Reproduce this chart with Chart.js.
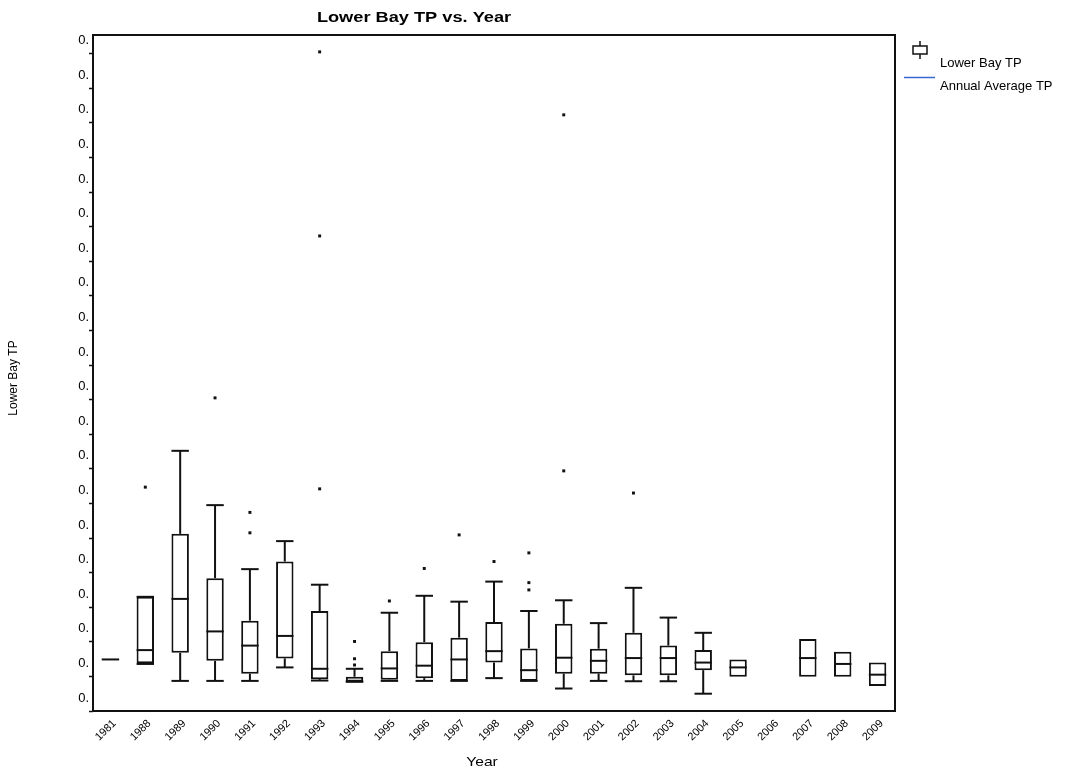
<!DOCTYPE html>
<html>
<head>
<meta charset="utf-8">
<title>Lower Bay TP vs. Year</title>
<script src="https://cdn.jsdelivr.net/npm/chart.js@4.4.1/dist/chart.umd.min.js"></script>
<style>
  html, body { margin: 0; padding: 0; background: #fff; }
  #wrap { width: 1066px; height: 775px; }
</style>
</head>
<body>
<div id="wrap"><canvas id="chart" width="1066" height="775"></canvas></div>
<script>
// Sampling years (categories on the x axis)
const years = ['1981','1988','1989','1990','1991','1992','1993','1994','1995','1996','1997','1998',
               '1999','2000','2001','2002','2003','2004','2005','2006','2007','2008','2009'];

// Box plot statistics per year (TP, mg/L); null where a part is absent
const whiskerLow  = [null, 0.0136, 0.0087, 0.0087, 0.0087, 0.0126, 0.0088, 0.0085, 0.0087, 0.0087, 0.0087, 0.0095,
                     0.0087, 0.0065, 0.0087, 0.0086, 0.0086, 0.0050, null, null, null, null, null];
const q1          = [0.0149, 0.0138, 0.0168, 0.0145, 0.0108, 0.0152, 0.0092, 0.0085, 0.0090, 0.0095, 0.0087, 0.0140,
                     0.0087, 0.0108, 0.0108, 0.0103, 0.0103, 0.0118, 0.0099, null, 0.0099, 0.0099, 0.0072];
const median      = [0.0149, 0.0176, 0.0324, 0.0230, 0.0189, 0.0217, 0.0122, 0.0085, 0.0123, 0.0131, 0.0149, 0.0173,
                     0.0118, 0.0154, 0.0145, 0.0153, 0.0153, 0.0140, 0.0126, null, 0.0153, 0.0136, 0.0105];
const q3          = [0.0149, 0.0330, 0.0512, 0.0384, 0.0261, 0.0432, 0.0289, 0.0099, 0.0173, 0.0199, 0.0212, 0.0257,
                     0.0181, 0.0252, 0.0180, 0.0226, 0.0189, 0.0176, 0.0149, null, 0.0208, 0.0171, 0.0140];
const whiskerHigh = [null, 0.0330, 0.0752, 0.0595, 0.0410, 0.0491, 0.0365, 0.0122, 0.0284, 0.0333, 0.0316, 0.0374,
                     0.0289, 0.0320, 0.0254, 0.0356, 0.0270, 0.0226, null, null, null, null, null];

// Individual outlying samples
const outlierYears  = ['1988','1990','1991','1991','1993','1993','1993','1994','1994','1994','1995','1996',
                       '1997','1998','1999','1999','1999','2000','2000','2002'];
const outlierValues = [0.0647, 0.0905, 0.0574, 0.0515, 0.1905, 0.1373, 0.0642, 0.0201, 0.0151, 0.0133, 0.0318, 0.0412,
                       0.0509, 0.0432, 0.0457, 0.0371, 0.0350, 0.1723, 0.0694, 0.0630];

// Y axis tick labels (one per 0.01 step)
const yTickLabels = ['0.','0.','0.','0.','0.','0.','0.','0.','0.','0.','0.','0.','0.','0.','0.','0.','0.','0.','0.','0.'];

const FONT = '"Liberation Sans", Arial, Helvetica, sans-serif';
const INK = '#111111';

// Whiskers, caps and median lines on top of the floating-bar boxes
const boxDetails = {
  id: 'boxDetails',
  afterDatasetsDraw(chart) {
    const ctx = chart.ctx;
    const xs = chart.scales.x, ys = chart.scales.y;
    const bars = chart.getDatasetMeta(0).data;
    ctx.save();
    ctx.strokeStyle = INK;
    ctx.lineWidth = 2;
    ctx.lineCap = 'butt';
    years.forEach((yr, i) => {
      if (median[i] === null) return;
      const x = xs.getPixelForValue(i);
      const half = bars[i] ? bars[i].width / 2 : 8;
      const line = (x1, y1, x2, y2) => { ctx.beginPath(); ctx.moveTo(x1, y1); ctx.lineTo(x2, y2); ctx.stroke(); };
      if (whiskerHigh[i] !== null) {
        const yq = ys.getPixelForValue(q3[i]), yh = ys.getPixelForValue(whiskerHigh[i]);
        line(x, yq, x, yh);
        line(x - half, yh, x + half, yh);
      }
      if (whiskerLow[i] !== null) {
        const yq = ys.getPixelForValue(q1[i]), yl = ys.getPixelForValue(whiskerLow[i]);
        line(x, yq, x, yl);
        line(x - half, yl, x + half, yl);
      }
      const ym = ys.getPixelForValue(median[i]);
      line(x - half, ym, x + half, ym);
    });
    ctx.restore();
  }
};

// Text drawn with a slight horizontal stretch
function wideText(ctx, text, x, y, sx) {
  ctx.save();
  ctx.translate(x, y);
  ctx.scale(sx, 1);
  ctx.fillText(text, 0, 0);
  ctx.restore();
}

// Frame, titles and legend
const decorations = {
  id: 'decorations',
  afterDraw(chart) {
    const ctx = chart.ctx;
    const a = chart.chartArea;
    ctx.save();
    ctx.strokeStyle = INK;
    ctx.lineWidth = 2;
    ctx.strokeRect(a.left, a.top, a.right - a.left, a.bottom - a.top);

    ctx.fillStyle = '#000';
    ctx.textAlign = 'center';
    ctx.textBaseline = 'middle';
    ctx.font = 'bold 14px ' + FONT;
    wideText(ctx, 'Lower Bay TP vs. Year', 414, 18, 1.3);

    ctx.font = '13px ' + FONT;
    wideText(ctx, 'Year', 482, 762, 1.2);

    ctx.font = '12px ' + FONT;
    ctx.save();
    ctx.translate(14, 378);
    ctx.rotate(-Math.PI / 2);
    ctx.fillText('Lower Bay TP', 0, 0);
    ctx.restore();

    // legend: box-plot glyph
    ctx.lineWidth = 1.5;
    ctx.beginPath(); ctx.moveTo(920, 41); ctx.lineTo(920, 59); ctx.stroke();
    ctx.fillStyle = '#fff';
    ctx.fillRect(913, 46, 14, 8);
    ctx.strokeRect(913, 46, 14, 8);
    // legend: average line
    ctx.strokeStyle = '#3a66d0';
    ctx.lineWidth = 1.5;
    ctx.beginPath(); ctx.moveTo(904, 77.5); ctx.lineTo(935, 77.5); ctx.stroke();

    ctx.fillStyle = '#000';
    ctx.textAlign = 'left';
    ctx.font = '13px ' + FONT;
    ctx.fillText('Lower Bay TP', 940, 63);
    ctx.fillText('Annual Average TP', 940, 86);
    ctx.restore();
  }
};

new Chart(document.getElementById('chart'), {
  data: {
    labels: years,
    datasets: [
      {
        type: 'bar',
        label: 'Lower Bay TP',
        data: years.map((y, i) => (q1[i] === null ? null : [q1[i], q3[i]])),
        backgroundColor: '#ffffff',
        borderColor: INK,
        borderWidth: 2,
        borderSkipped: false,
        barPercentage: 0.5,
        categoryPercentage: 1.0
      },
      {
        type: 'line',
        label: 'Outliers',
        data: outlierYears.map((y, i) => ({ x: y, y: outlierValues[i] })),
        showLine: false,
        pointStyle: 'rect',
        pointRadius: 2.1,
        pointBorderWidth: 0,
        pointBackgroundColor: INK,
        pointBorderColor: INK
      }
    ]
  },
  options: {
    responsive: false,
    animation: false,
    events: [],
    layout: { padding: { left: 0, right: 171, top: 35, bottom: 0 } },
    plugins: {
      legend: { display: false },
      title: { display: false },
      tooltip: { enabled: false }
    },
    scales: {
      x: {
        type: 'category',
        offset: true,
        border: { display: false },
        grid: { display: false, drawTicks: false },
        ticks: {
          minRotation: 45,
          maxRotation: 45,
          autoSkip: false,
          padding: 6,
          labelOffset: 4,
          color: '#000',
          font: { family: FONT, size: 11 }
        },
        afterFit(scale) { scale.height = 64; }
      },
      y: {
        type: 'linear',
        min: 0,
        max: 0.19538,
        border: { display: false },
        grid: { display: true, drawOnChartArea: false, drawTicks: true, tickLength: 4, tickColor: INK, tickWidth: 1.5 },
        ticks: {
          stepSize: 0.01,
          includeBounds: false,
          labelOffset: -13,
          padding: 0,
          color: '#000',
          font: { family: FONT, size: 13 },
          callback: (v, idx) => yTickLabels[idx]
        },
        afterFit(scale) { scale.width = 93; }
      }
    }
  },
  plugins: [boxDetails, decorations]
});
</script>
</body>
</html>
